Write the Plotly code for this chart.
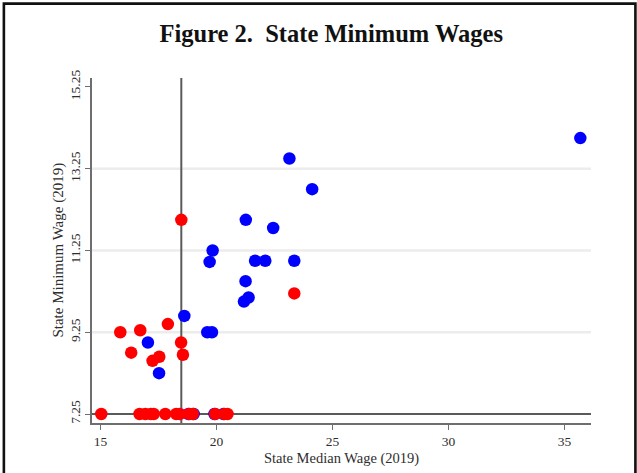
import plotly.graph_objects as go

# State median hourly wage vs. state minimum wage, 2019
blue_median = [35.68, 23.14, 24.12, 21.26, 22.44, 19.83, 19.70, 21.66, 22.10, 23.35,
               21.25, 21.18, 21.38, 18.61, 19.60, 19.80, 17.04, 17.52,
               18.79, 19.01, 19.91, 20.30]
blue_minimum = [14.00, 13.50, 12.75, 12.00, 11.80, 11.25, 10.97, 11.00, 11.00, 11.00,
                10.50, 10.00, 10.10, 9.65, 9.25, 9.25, 9.00, 8.25,
                7.25, 7.25, 7.25, 7.25]

red_median = [18.48, 23.35, 15.85, 16.71, 17.90, 18.47, 16.32, 18.55, 17.24, 17.53,
              15.03, 16.68, 16.93, 17.17, 17.29, 17.79, 18.26, 18.41,
              18.82, 18.98, 19.94, 20.34, 20.47]
red_minimum = [12.00, 10.20, 9.25, 9.30, 9.45, 9.00, 8.75, 8.70, 8.55, 8.65,
               7.25, 7.25, 7.25, 7.25, 7.25, 7.25, 7.25, 7.25,
               7.25, 7.25, 7.25, 7.25, 7.25]

federal_minimum = 7.25
median_of_medians = 18.48

x_ticks = [15, 20, 25, 30, 35]
y_ticks = [7.25, 9.25, 11.25, 13.25, 15.25]
y_tick_text = ["7.25", "9.25", "11.25", "13.25", "15.25"]
grid_levels = [9.25, 11.25, 13.25]

x_title = "State Median Wage (2019)"
y_title = "State Minimum Wage (2019)"
chart_title = "Figure 2.  State Minimum Wages"

x_range = [14.63, 36.14]
y_range = [7.03, 15.47]

SERIF = "Liberation Serif, Times New Roman, serif"
AXIS_GREY = "#6e6e6e"
TEXT_GREY = "#2e2e2e"

fig = go.Figure()
fig.add_trace(go.Scatter(x=blue_median, y=blue_minimum, mode="markers",
                         marker=dict(color="#0000ff", size=12.5, line=dict(width=0)),
                         showlegend=False))
fig.add_trace(go.Scatter(x=red_median, y=red_minimum, mode="markers",
                         marker=dict(color="#ff0000", size=12.5, line=dict(width=0)),
                         showlegend=False))

shapes = []
# light horizontal grid
for g in grid_levels:
    shapes.append(dict(type="line", xref="paper", yref="y", x0=0, x1=1, y0=g, y1=g,
                       line=dict(color="#ececec", width=2.5), layer="below"))
# federal minimum and median reference lines
shapes.append(dict(type="line", xref="paper", yref="y", x0=0, x1=1,
                   y0=federal_minimum, y1=federal_minimum,
                   line=dict(color="#5a5a5a", width=2), layer="below"))
shapes.append(dict(type="line", xref="x", yref="paper", x0=median_of_medians,
                   x1=median_of_medians, y0=0, y1=1,
                   line=dict(color="#5a5a5a", width=2), layer="below"))
# outer frame around the figure
shapes.append(dict(type="rect", xref="paper", yref="paper",
                   x0=-0.1766, x1=1.089, y0=-0.17, y1=1.2155,
                   line=dict(color="#111111", width=2.6), fillcolor="rgba(0,0,0,0)"))

# axis titles placed just outside the tick labels
annotations = [
    dict(text=x_title, xref="paper", yref="paper", x=0.499, y=-0.104,
         xanchor="center", yanchor="middle", showarrow=False,
         font=dict(family=SERIF, size=14.5, color=TEXT_GREY)),
    dict(text=y_title, xref="paper", yref="paper", x=-0.068, y=0.5,
         xanchor="center", yanchor="middle", textangle=-90, showarrow=False,
         font=dict(family=SERIF, size=15, color=TEXT_GREY)),
]

fig.update_layout(
    width=637, height=473,
    margin=dict(l=92, r=46, t=78, b=50, autoexpand=False),
    paper_bgcolor="white", plot_bgcolor="white",
    font=dict(family=SERIF, color=TEXT_GREY, size=13),
    title=dict(text="<b>" + chart_title + "</b>",
               x=0.52, xanchor="center", y=0.930, yanchor="middle",
               font=dict(family=SERIF, size=24.5, color="#111111")),
    shapes=shapes,
    annotations=annotations,
    xaxis=dict(range=x_range, tickvals=x_ticks, showgrid=False, zeroline=False,
               showline=True, linecolor=AXIS_GREY, linewidth=1.5,
               ticks="outside", ticklen=5, tickcolor=AXIS_GREY, tickwidth=1,
               tickfont=dict(size=13.5, color=TEXT_GREY),
               automargin=False),
    yaxis=dict(range=y_range, tickvals=y_ticks, ticktext=y_tick_text, tickangle=-90,
               showgrid=False, zeroline=False,
               showline=True, linecolor=AXIS_GREY, linewidth=1.5,
               ticks="outside", ticklen=5, tickcolor=AXIS_GREY, tickwidth=1,
               tickfont=dict(size=13.5, color=TEXT_GREY),
               automargin=False),
)

fig.write_html("out.html")
